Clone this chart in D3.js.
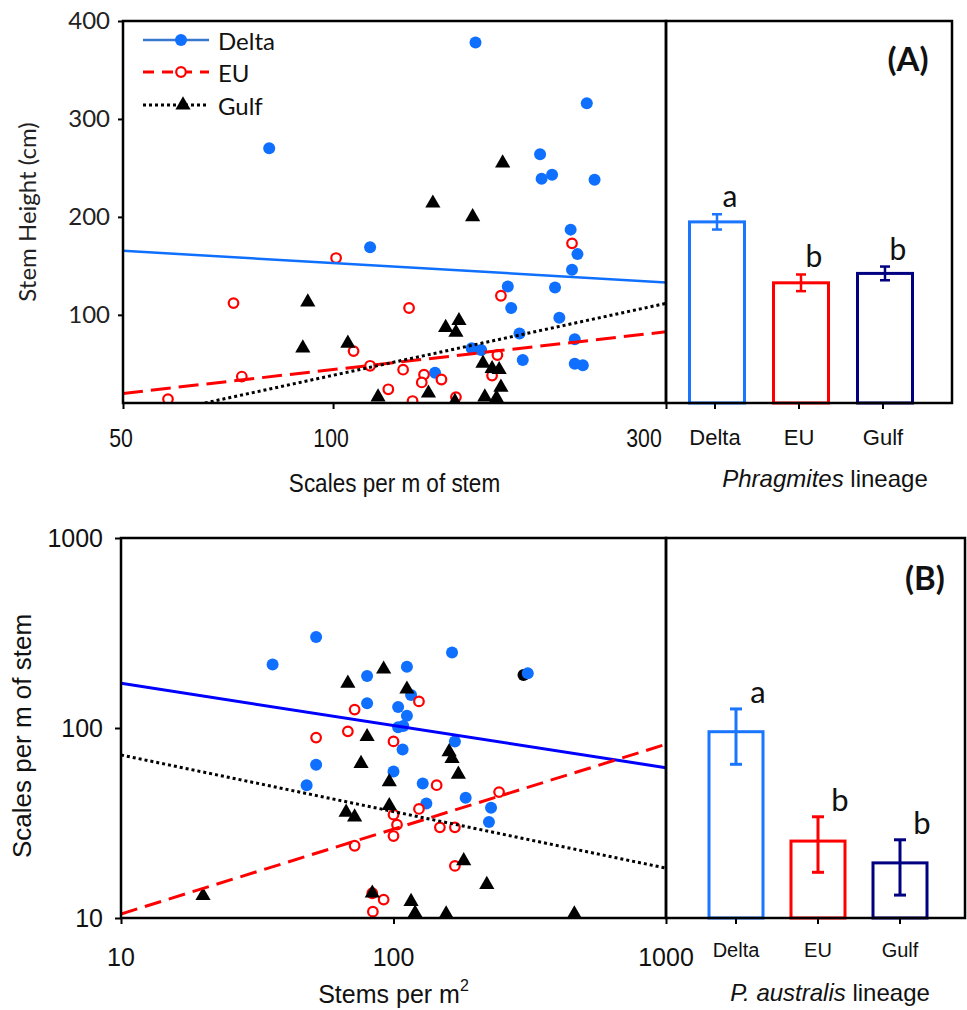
<!DOCTYPE html>
<html><head><meta charset="utf-8">
<script src="https://cdn.jsdelivr.net/npm/d3@7"></script>
<style>body{margin:0;background:#fff} svg{display:block}</style>
</head><body>
<svg id="chart" width="967" height="1010"></svg>
<script>
// ================= DATA =================
const lineages = ["Delta", "EU", "Gulf"];
const legendLabels = ["Delta", "EU", "Gulf"];

// Panel A scatter: [scales per m of stem, stem height (cm)]
const deltaA = [[81,270],[160,378],[231,316],[198,264],[199,239],[206,243],[237,238],[113,169],[219,187],[224,162],[220,146],[178,129],[208,128],[180,107],[211,97],[185,81],[222,75],[158,66],[163,64],[187,54],[222,50],[228,48.5],[140,41]];
const euA = [[101,158],[72,112],[107,63],[113,48],[74,37],[58,14],[120,24],[126,44],[128.5,107],[220,173],[174,119.5],[135,39],[134,31],[143,34],[130,12],[150,16],[172,59],[169,38]];
const gulfA = [[92,113],[90.5,66],[105,71],[116,16],[175,255],[139,214],[158.5,200],[145,87],[151.5,94],[150,82],[164,50.5],[169,45],[173,44],[137,20],[149.5,11.5],[165,16],[174,26],[171.5,15]];
// Panel A fitted lines (endpoints)
const trendDeltaA = [[50,165.4],[300,133.1]];
const trendEuA = [[50,19.8],[300,82.7]];
const trendGulfA = [[65.5,10],[300,111.7]];
// Panel A bars: mean stem height +- SE
const meansA = [194.9, 132.7, 142.3];
const errA = [7.8, 8.5, 7.0];
const lettersA = ["a", "b", "b"];
const xTicksA = [50, 100, 300];
const yTicksA = [100, 200, 300, 400];

// Panel B scatter: [stems per m2, scales per m of stem]
const deltaB = [[36,216],[52,301],[80,188],[80,135],[104,129],[104,101],[52,64],[48,50],[100,59],[164,250],[112,210],[311,194],[116,149],[112,116],[108.6,102.5],[168,85],[108,77],[128,51],[184,43],[132,40],[228,38],[224,32]];
const euB = [[72,125],[52,89],[68,96],[100,85],[100,35],[103,31],[100,27],[124,138],[144,50],[244,46],[124,37.5],[148,30],[168,30],[72,24],[92,12.5],[84,10.8],[83.6,13.5],[168,18.8]];
const gulfB = [[92,204],[68,172],[80,90],[76,65],[96.5,52],[96.5,39],[67,36],[72,34],[112,160],[160,75],[164,69],[173,57],[181,20],[220,15],[116,12.2],[120,10.6],[156,10.5],[461,10.5],[20,13.1],[83.6,13.5]];
const gulfCircleB = [[300,190]];
const trendDeltaB = [[10,171.9],[1000,61.8]];
const trendEuB = [[10,10.5],[1000,82.1]];
const trendGulfB = [[10,72.1],[1000,18.3]];
// Panel B bars: mean with error range
const meansB = [95.6, 25.4, 19.5];
const lowB = [64.4, 17.4, 13.2];
const highB = [126, 34.1, 25.8];
const lettersB = ["a", "b", "b"];
const xTicksB = [10, 100, 1000];
const yTicksB = [10, 100, 1000];

// ================= STYLE =================
const cDelta = "#0f6fff", cDeltaLineB = "#0000ff", cEU = "#ff0000", cGulf = "#000000";
const barColors = ["#1a75ff", "#ff0000", "#000080"];
const ARIAL = "'Liberation Sans', Arial, sans-serif";
const CAL = "Lato, 'Open Sans', sans-serif";

const svg = d3.select("#chart");
const defs = svg.append("defs");

function addClip(id, P) {
  defs.append("clipPath").attr("id", id).append("rect")
    .attr("x", P.l).attr("y", P.t).attr("width", P.r - P.l).attr("height", P.b - P.t);
}

function drawPoints(g, data, x, y, kind, r) {
  if (kind === "tri") {
    g.selectAll(null).data(data).enter().append("path")
      .attr("d", d3.symbol(d3.symbolTriangle, 100)())
      .attr("transform", d => `translate(${x(d[0])},${y(d[1])})`)
      .attr("fill", "#000");
  } else if (kind === "open") {
    g.selectAll(null).data(data).enter().append("circle")
      .attr("cx", d => x(d[0])).attr("cy", d => y(d[1])).attr("r", r)
      .attr("fill", "#fff").attr("stroke", cEU).attr("stroke-width", 2.2);
  } else {
    g.selectAll(null).data(data).enter().append("circle")
      .attr("cx", d => x(d[0])).attr("cy", d => y(d[1])).attr("r", r)
      .attr("fill", kind);
  }
}

function drawTrend(g, data, x, y, color, width, dash) {
  g.append("path").datum(data)
    .attr("d", d3.line().x(d => x(d[0])).y(d => y(d[1])))
    .attr("fill", "none").attr("stroke", color).attr("stroke-width", width)
    .attr("stroke-dasharray", dash || null);
}

function frame(P) {
  svg.append("rect").attr("x", P.l).attr("y", P.t).attr("width", P.r - P.l).attr("height", P.b - P.t)
    .attr("fill", "none").attr("stroke", "#000").attr("stroke-width", 2.5);
  svg.append("rect").attr("x", P.r).attr("y", P.t).attr("width", P.br - P.r).attr("height", P.b - P.t)
    .attr("fill", "none").attr("stroke", "#000").attr("stroke-width", 2.5);
}

// ================= PANEL A =================
const A = {l: 123, t: 21, r: 666, b: 403, br: 952};
const xA = d3.scaleLog().domain([50, 300]).range([A.l, A.r]);
const yA = d3.scaleLinear().domain([10, 400]).range([A.b, A.t]);
addClip("clipA", A);

const gA = svg.append("g").attr("clip-path", "url(#clipA)");
drawPoints(gA, deltaA, xA, yA, cDelta, 6);
drawPoints(gA, euA, xA, yA, "open", 4.8);
drawPoints(gA, gulfA, xA, yA, "tri");
drawTrend(gA, trendDeltaA, xA, yA, cDelta, 2.5);
drawTrend(gA, trendEuA, xA, yA, cEU, 3, "20,8");
drawTrend(gA, trendGulfA, xA, yA, cGulf, 3, "3,3");

// y axis A
const yAxA = svg.append("g").attr("transform", `translate(${A.l},0)`)
  .call(d3.axisLeft(yA).tickValues(yTicksA).tickSize(5).tickPadding(8).tickFormat(d3.format("d")));
yAxA.select(".domain").remove();
yAxA.selectAll("line").attr("stroke-width", 2);
yAxA.selectAll("text").attr("font-family", CAL).attr("font-size", 24).attr("fill", "#222");

// x axis A
const xAxA = svg.append("g").attr("transform", `translate(0,${A.b})`)
  .call(d3.axisBottom(xA).tickValues(xTicksA).tickSize(6).tickFormat(""));
xAxA.select(".domain").remove();
xAxA.selectAll("line").attr("stroke-width", 2);
svg.append("g").selectAll("text").data(xTicksA).enter().append("text")
  .attr("transform", d => `translate(${d === 300 ? xA(d) - 22 : xA(d) - 2},438) scale(0.85,1.05)`)
  .attr("text-anchor", "middle").attr("dominant-baseline", "central")
  .attr("font-family", ARIAL).attr("font-size", 25).attr("fill", "#111")
  .text(d => d);

svg.append("text").attr("transform", `translate(${(A.l + A.r) / 2},483) scale(0.9,1.05)`)
  .attr("text-anchor", "middle").attr("dominant-baseline", "central")
  .attr("font-family", ARIAL).attr("font-size", 25).attr("fill", "#111")
  .text("Scales per m of stem");

svg.append("text").attr("transform", `translate(26,${(A.t + A.b) / 2}) rotate(-90)`)
  .attr("text-anchor", "middle").attr("dominant-baseline", "central")
  .attr("font-family", CAL).attr("font-size", 24).attr("fill", "#222")
  .text("Stem Height (cm)");

// legend A
const legItems = [
  {label: legendLabels[0], color: cDelta, kind: "dot", dash: null, y: 40},
  {label: legendLabels[1], color: cEU, kind: "open", dash: "11,8", y: 72},
  {label: legendLabels[2], color: "#000", kind: "tri", dash: "3,3", y: 105}
];
const leg = svg.append("g");
legItems.forEach(it => {
  leg.append("line").attr("x1", 143).attr("x2", 209).attr("y1", it.y).attr("y2", it.y)
    .attr("stroke", it.kind === "dot" ? "#3a78d0" : it.color).attr("stroke-width", it.kind === "dot" ? 2.5 : 3)
    .attr("stroke-dasharray", it.dash);
  if (it.kind === "dot") leg.append("circle").attr("cx", 181).attr("cy", it.y).attr("r", 6).attr("fill", cDelta);
  if (it.kind === "open") leg.append("circle").attr("cx", 181).attr("cy", it.y).attr("r", 4.8).attr("fill", "#fff").attr("stroke", cEU).attr("stroke-width", 2.2);
  if (it.kind === "tri") leg.append("path").attr("d", d3.symbol(d3.symbolTriangle, 100)()).attr("transform", `translate(183,${it.y})`).attr("fill", "#000");
  leg.append("text").attr("x", 218).attr("y", it.y).attr("dominant-baseline", "central")
    .attr("font-family", CAL).attr("font-size", 24).attr("fill", "#111").text(it.label);
});

// bars A
const xbA = d3.scalePoint().domain(lineages).range([A.r + 51, A.r + 219]);
const bwA = 55;
const barsA = svg.append("g");
lineages.forEach((k, i) => {
  const cx = xbA(k);
  barsA.append("rect").attr("x", cx - bwA / 2).attr("y", yA(meansA[i])).attr("width", bwA)
    .attr("height", A.b - yA(meansA[i])).attr("fill", "#fff").attr("stroke", barColors[i]).attr("stroke-width", 3);
  const top = yA(meansA[i] + errA[i]), bot = yA(meansA[i] - errA[i]);
  barsA.append("line").attr("x1", cx).attr("x2", cx).attr("y1", top).attr("y2", bot).attr("stroke", barColors[i]).attr("stroke-width", 2.5);
  [top, bot].forEach(yy => barsA.append("line").attr("x1", cx - 5).attr("x2", cx + 5).attr("y1", yy).attr("y2", yy).attr("stroke", barColors[i]).attr("stroke-width", 2.5));
  barsA.append("text").attr("x", cx + 13).attr("y", top - 7).attr("text-anchor", "middle")
    .attr("font-family", CAL).attr("font-size", 30).attr("fill", "#111").text(lettersA[i]);
  barsA.append("line").attr("x1", cx - 2).attr("x2", cx - 2).attr("y1", A.b).attr("y2", A.b + 6).attr("stroke", "#000").attr("stroke-width", 2);
  barsA.append("text").attr("x", cx - 2).attr("y", 437).attr("text-anchor", "middle").attr("dominant-baseline", "central")
    .attr("font-family", ARIAL).attr("font-size", 22).attr("fill", "#111").text(k);
});
const tA = svg.append("text").attr("x", 825).attr("y", 478).attr("text-anchor", "middle").attr("dominant-baseline", "central")
  .attr("font-family", ARIAL).attr("font-size", 24).attr("fill", "#111");
tA.append("tspan").attr("font-style", "italic").text("Phragmites");
tA.append("tspan").text(" lineage");
svg.append("text").attr("x", 908).attr("y", 58).attr("text-anchor", "middle").attr("dominant-baseline", "central")
  .attr("font-family", CAL).attr("font-weight", "bold").attr("font-size", 33).attr("fill", "#111").text("(A)");
frame(A);

// ================= PANEL B =================
const B = {l: 121, t: 538, r: 666, b: 918, br: 965};
const xB = d3.scaleLog().domain([10, 1000]).range([B.l, B.r]);
const yB = d3.scaleLog().domain([10, 1000]).range([B.b, B.t]);
addClip("clipB", B);

const gB = svg.append("g").attr("clip-path", "url(#clipB)");
drawPoints(gB, gulfCircleB, xB, yB, "#000", 6);
drawPoints(gB, deltaB, xB, yB, cDelta, 6);
drawPoints(gB, euB, xB, yB, "open", 4.8);
drawPoints(gB, gulfB, xB, yB, "tri");
drawTrend(gB, trendDeltaB, xB, yB, cDeltaLineB, 3);
drawTrend(gB, trendEuB, xB, yB, cEU, 3, "17,8");
drawTrend(gB, trendGulfB, xB, yB, cGulf, 3, "3,3");

const yAxB = svg.append("g").attr("transform", `translate(${B.l},0)`)
  .call(d3.axisLeft(yB).tickValues(yTicksB).tickSize(6).tickPadding(12).tickFormat(d3.format("d")));
yAxB.select(".domain").remove();
yAxB.selectAll("line").attr("stroke-width", 2);
yAxB.selectAll("text").attr("font-family", ARIAL).attr("font-size", 25).attr("fill", "#111");

const xAxB = svg.append("g").attr("transform", `translate(0,${B.b})`)
  .call(d3.axisBottom(xB).tickValues(xTicksB).tickSize(6).tickFormat(""));
xAxB.select(".domain").remove();
xAxB.selectAll("line").attr("stroke-width", 2);
svg.append("g").selectAll("text").data(xTicksB).enter().append("text")
  .attr("x", d => xB(d)).attr("y", 957).attr("text-anchor", "middle").attr("dominant-baseline", "central")
  .attr("font-family", ARIAL).attr("font-size", 25).attr("fill", "#111").text(d => d);

const tX = svg.append("text").attr("x", (B.l + B.r) / 2).attr("y", 994).attr("text-anchor", "middle").attr("dominant-baseline", "central")
  .attr("font-family", ARIAL).attr("font-size", 25).attr("fill", "#111");
tX.append("tspan").text("Stems per m");
tX.append("tspan").attr("font-size", 16).attr("dy", -9).text("2");

svg.append("text").attr("transform", `translate(22,736) rotate(-90)`)
  .attr("text-anchor", "middle").attr("dominant-baseline", "central")
  .attr("font-family", ARIAL).attr("font-size", 26).attr("fill", "#111")
  .text("Scales per m of stem");

const xbB = d3.scalePoint().domain(lineages).range([B.r + 70, B.r + 234]);
const bwB = 54;
const barsB = svg.append("g");
lineages.forEach((k, i) => {
  const cx = xbB(k);
  barsB.append("rect").attr("x", cx - bwB / 2).attr("y", yB(meansB[i])).attr("width", bwB)
    .attr("height", B.b - yB(meansB[i])).attr("fill", "#fff").attr("stroke", barColors[i]).attr("stroke-width", 3);
  const top = yB(highB[i]), bot = yB(lowB[i]);
  barsB.append("line").attr("x1", cx).attr("x2", cx).attr("y1", top).attr("y2", bot).attr("stroke", barColors[i]).attr("stroke-width", 3);
  [top, bot].forEach(yy => barsB.append("line").attr("x1", cx - 6).attr("x2", cx + 6).attr("y1", yy).attr("y2", yy).attr("stroke", barColors[i]).attr("stroke-width", 3));
  barsB.append("text").attr("x", cx + 22).attr("y", top - 6).attr("text-anchor", "middle")
    .attr("font-family", CAL).attr("font-size", 31).attr("fill", "#111").text(lettersB[i]);
  barsB.append("line").attr("x1", cx).attr("x2", cx).attr("y1", B.b).attr("y2", B.b + 6).attr("stroke", "#000").attr("stroke-width", 2);
  barsB.append("text").attr("x", cx).attr("y", 950).attr("text-anchor", "middle").attr("dominant-baseline", "central")
    .attr("font-family", ARIAL).attr("font-size", 20).attr("fill", "#111").text(k);
});
const tB = svg.append("text").attr("x", 830).attr("y", 992).attr("text-anchor", "middle").attr("dominant-baseline", "central")
  .attr("font-family", ARIAL).attr("font-size", 24).attr("fill", "#111");
tB.append("tspan").attr("font-style", "italic").text("P. australis");
tB.append("tspan").text(" lineage");
svg.append("text").attr("x", 925).attr("y", 577).attr("text-anchor", "middle").attr("dominant-baseline", "central")
  .attr("font-family", CAL).attr("font-weight", "bold").attr("font-size", 33).attr("fill", "#111").text("(B)");
frame(B);
</script>
</body></html>
